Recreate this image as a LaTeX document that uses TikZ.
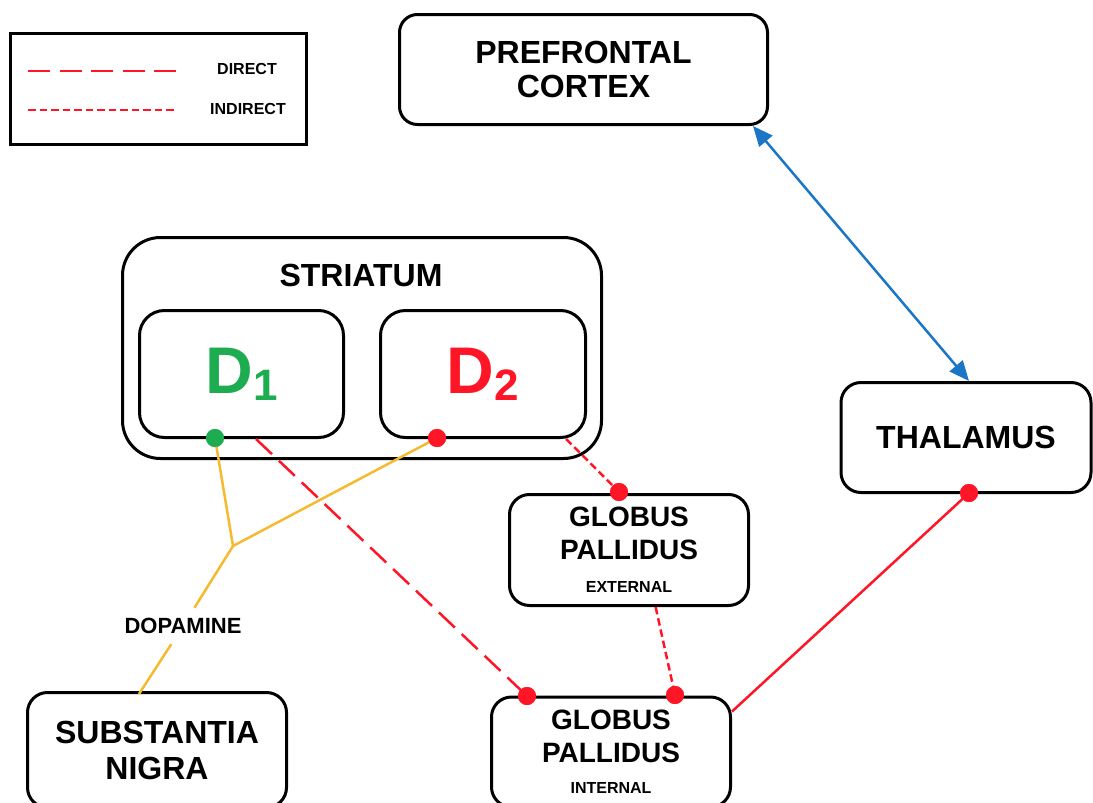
\documentclass[tikz,border=0pt]{standalone}
\usepackage{fontspec}
\setmainfont{Liberation Sans}
\usetikzlibrary{arrows.meta,calc}
\definecolor{cred}{RGB}{255,22,38}
\definecolor{cgreen}{RGB}{30,172,80}
\definecolor{cyellow}{RGB}{246,186,48}
\definecolor{cblue}{RGB}{28,118,198}
\begin{document}
\begin{tikzpicture}[x=1pt,y=-1pt,
  box/.style={draw, line width=3pt, rounded corners=20pt, inner sep=0pt, align=center,
    font=\bfseries\fontsize{32}{34}\selectfont},
  gpbox/.style={box, font=\bfseries\fontsize{28}{33}\selectfont},
  smalltext/.style={font=\bfseries\fontsize{16}{18}\selectfont},
  dotred/.style={circle, fill=cred, inner sep=0pt, minimum size=18pt},
  dotgreen/.style={circle, fill=cgreen, inner sep=0pt, minimum size=18pt},
  directline/.style={draw=cred, line width=2.5pt, dash pattern=on 22pt off 9.5pt},
  indirectline/.style={draw=cred, line width=2.5pt, dash pattern=on 7.5pt off 4pt},
  solidred/.style={draw=cred, line width=2.5pt},
  dopaline/.style={draw=cyellow, line width=2.5pt},
  bluearrow/.style={draw=cblue, line width=2.5pt, {Triangle[length=20pt,width=17pt]}-{Triangle[length=20pt,width=17pt]}}
]
\useasboundingbox (0,0) rectangle (1093,803);

% legend
\node[draw, line width=2.5pt, minimum width=296pt, minimum height=111pt, inner sep=0pt] (legend) at (158.5,89) {};
\coordinate (l1a) at (28,71);
\coordinate (l1b) at (177,71);
\coordinate (l2a) at (28,110);
\coordinate (l2b) at (177,110);
\draw[directline] (l1a) -- (l1b);
\draw[indirectline] (l2a) -- (l2b);
\node[smalltext] (ldirect) at (247,69) {DIRECT};
\node[smalltext] (lindirect) at (248,109) {INDIRECT};

% boxes
\node[box, rounded corners=18pt, minimum width=368pt, minimum height=110pt] (pfc) at (583.5,69.5) {PREFRONTAL\\CORTEX};
\node[box, rounded corners=38pt, minimum width=479pt, minimum height=221pt] (str) at (362,348) {};
\node[font=\bfseries\fontsize{32}{34}\selectfont] (strlabel) at (361,275) {STRIATUM};
\node[box, rounded corners=25pt, minimum width=204pt, minimum height=127pt, text=cgreen] (d1) at (241.5,374)
  {{\fontsize{66}{66}\selectfont D}\raisebox{-7pt}{\fontsize{44}{44}\selectfont 1}};
\node[box, rounded corners=25pt, minimum width=205pt, minimum height=127pt, text=cred] (d2) at (483,374)
  {{\fontsize{66}{66}\selectfont D}\raisebox{-7pt}{\fontsize{44}{44}\selectfont 2}};
\node[box, minimum width=250pt, minimum height=110pt] (thal) at (966,437.5) {THALAMUS};
\node[gpbox, minimum width=239pt, minimum height=111pt] (gpe) at (629,550)
  {GLOBUS\\PALLIDUS\\[0pt]{\fontsize{16}{18}\selectfont EXTERNAL}};
\node[gpbox, minimum width=239pt, minimum height=110pt] (gpi) at (611,752)
  {GLOBUS\\PALLIDUS\\[-2pt]{\fontsize{16}{18}\selectfont INTERNAL}};
\node[box, font=\bfseries\fontsize{32}{36}\selectfont, minimum width=259pt, minimum height=115pt] (sn) at (157,750) {SUBSTANTIA\\NIGRA};

% connectors
\coordinate (d1out) at ($(d1.south west)!0.57!(d1.south east)$);
\coordinate (d2out) at ($(d2.south west)!0.9!(d2.south east)$);
\coordinate (gpeout) at ($(gpe.south west)!0.61!(gpe.south east)$);
\coordinate (gpiout) at ($(gpi.north east)+(0,16)$);
\coordinate (pfcout) at ($(pfc.south east)+(-16,0)$);
\coordinate (thalin) at ($(thal.north)+(3,0)$);

\node[dotred] (gpedot) at (619,492) {};
\node[dotred] (gpidot1) at (527,696) {};
\node[dotred] (gpidot2) at (675,695) {};
\node[dotred] (thaldot) at (969,493) {};

\draw[directline] (d1out) -- (gpidot1.center);
\draw[indirectline] (d2out) -- (gpedot.center);
\draw[indirectline] (gpeout) -- (gpidot2.center);
\draw[solidred] (gpiout) -- (thaldot.center);
\draw[bluearrow] (pfcout) -- (thalin);

% dopamine
\coordinate (branch) at (233,546);
\coordinate (snin) at (139,694);
\node[dotgreen] (d1dot) at (215,438) {};
\node[dotred] (d2dot) at (437,438) {};
\node[font=\bfseries\fontsize{22}{24}\selectfont, minimum height=36pt, inner xsep=2pt] (dopa) at (183,626) {DOPAMINE};
\draw[dopaline] (d1dot.center) -- (branch);
\draw[dopaline] (d2dot.center) -- (branch);
\draw[dopaline] (branch) -- (dopa);
\draw[dopaline] (dopa) -- (snin);
\node[dotgreen] at (d1dot) {};
\node[dotred] at (d2dot) {};
\node[dotred] at (gpedot) {};
\node[dotred] at (gpidot1) {};
\node[dotred] at (gpidot2) {};
\node[dotred] at (thaldot) {};
\end{tikzpicture}
\end{document}
